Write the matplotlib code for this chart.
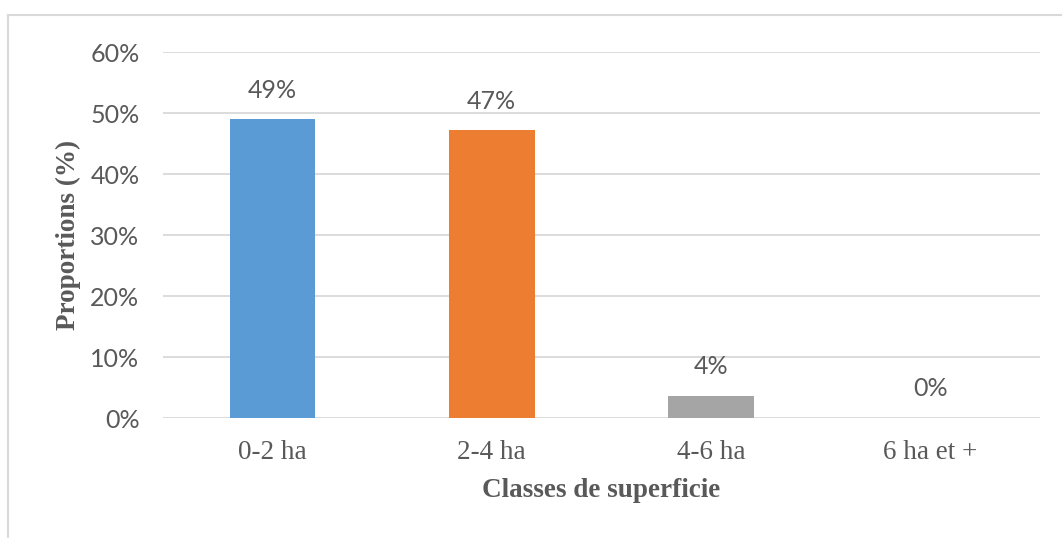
import matplotlib
matplotlib.use("Agg")
import matplotlib.pyplot as plt
from matplotlib.lines import Line2D
from matplotlib.ticker import FuncFormatter

# Données
classes = ["0-2 ha", "2-4 ha", "4-6 ha", "6 ha et +"]
proportions = [49.0, 47.2, 3.6, 0.0]
etiquettes = ["49%", "47%", "4%", "0%"]
couleurs = ["#5B9BD5", "#ED7D31", "#A5A5A5", "#FFC000"]

gris = "#595959"

fig = plt.figure(figsize=(10.62, 5.38), dpi=100)
ax = fig.add_axes([0.1535, 0.223, 0.8255, 0.680])

x = range(len(classes))
barres = ax.bar(x, proportions, width=0.39, color=couleurs, zorder=3)

# étiquettes de valeur au-dessus des barres
for b, txt in zip(barres, etiquettes):
    ax.annotate(txt, (b.get_x() + b.get_width() / 2, b.get_height()),
                xytext=(0, 21), textcoords="offset points",
                ha="center", va="center", fontsize=18, color=gris,
                family="Lato")

ax.set_ylim(0, 60)
ax.set_xlim(-0.5, len(classes) - 0.5)
ax.set_yticks(range(0, 61, 10))
ax.yaxis.set_major_formatter(FuncFormatter(lambda v, p: f"{v:.0f}%"))
ax.grid(axis="y", color="#D9D9D9", linewidth=1.3, zorder=0)

for s in ax.spines.values():
    s.set_visible(False)
ax.tick_params(length=0)
ax.tick_params(axis="y", pad=17, labelsize=18, labelcolor=gris)
ax.tick_params(axis="x", pad=16, labelsize=19.5, labelcolor=gris)
ax.set_xticks(list(x))
ax.set_xticklabels(classes, family="Liberation Serif")
for t in ax.get_yticklabels():
    t.set_family("Lato")

ax.set_xlabel("Classes de superficie", family="Liberation Serif",
              fontweight="bold", fontsize=19.5, color=gris, va="center")
ax.set_ylabel("Proportions (%)", family="Liberation Serif",
              fontweight="bold", fontsize=19.5, color=gris, va="center")
ax.xaxis.set_label_coords(0.5, -0.197)
ax.yaxis.set_label_coords(-0.108, 0.5)

# cadre du graphique (haut et gauche visibles)
fig.add_artist(Line2D([8 / 1062, 1.0], [1 - 15 / 538, 1 - 15 / 538],
                      transform=fig.transFigure, color="#D9D9D9", linewidth=1.5))
fig.add_artist(Line2D([8 / 1062, 8 / 1062], [0.0, 1 - 15 / 538],
                      transform=fig.transFigure, color="#D9D9D9", linewidth=1.5))

fig.savefig("out.png", dpi=100)
plt.close(fig)
